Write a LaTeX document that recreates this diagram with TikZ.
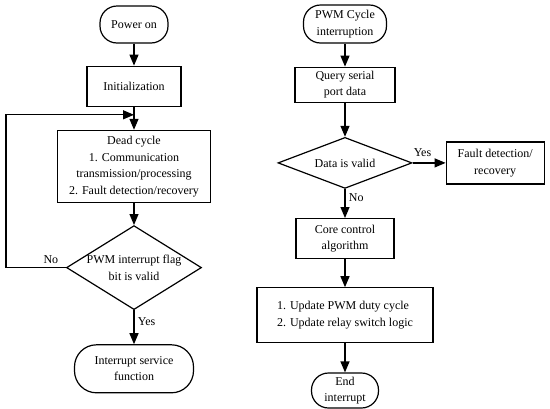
\documentclass[tikz,border=0pt]{standalone}
\usepackage{fontspec}
\setmainfont{Liberation Serif}
\usepackage{tikz}
\usetikzlibrary{positioning}
\usetikzlibrary{arrows.meta}
\usetikzlibrary{shapes.geometric}

\begin{document}
\begin{tikzpicture}[x=1pt, y=1pt, ->,
        >={Triangle[length=11pt,width=9pt]},
        line width=1.2pt,
        auto,
        font=\fontsize{12}{16.5}\selectfont,
        box/.style={
        draw=black,
        rectangle,
        inner sep=2pt,
        align=center},
        terminal/.style={
        draw=black,
        rectangle,
        rounded corners=17pt,
        inner sep=2pt,
        align=center},
        decision/.style={
        draw=black,
        diamond,
        inner sep=-6pt,
        align=center}]

        \useasboundingbox (0,0) rectangle (550,-408);

        % main loop
        \node[terminal, minimum width=68pt, minimum height=37pt] (power) at (134,-24.5) {Power on};
        \node[box, minimum width=94pt, minimum height=40pt] (init) [below=22pt of power] {Initialization};
        \node[box, minimum width=153pt, minimum height=72pt] (dead) [below=23pt of init] {Dead cycle\\1. Communication\\transmission/processing\\2. Fault detection/recovery};
        \node[decision, aspect=1.6, minimum width=135pt, minimum height=84pt] (flag) [below=22pt of dead] {PWM interrupt flag\\bit is valid};
        \node[terminal, rounded corners=22pt, minimum width=119pt, minimum height=48pt] (isr) [below=34pt of flag] {Interrupt service\\function};
        \coordinate[below=8pt of init] (join);
        \coordinate (back) at ([xshift=-60pt]flag.west);

        % interrupt routine
        \node[terminal, minimum width=83pt, minimum height=38pt] (pwmirq) at (345,-24) {PWM Cycle\\interruption};
        \node[box, minimum width=100pt, minimum height=35pt] (query) [below=23pt of pwmirq] {Query serial\\port data};
        \node[decision, aspect=2.6, minimum width=134pt, minimum height=51pt] (valid) [below=34pt of query] {Data is valid};
        \node[box, minimum width=98pt, minimum height=42pt] (fault) [right=33pt of valid] {Fault detection/\\recovery};
        \node[box, minimum width=98pt, minimum height=40pt] (core) [below=29pt of valid] {Core control\\algorithm};
        \node[box, align=left, minimum width=176pt, minimum height=55pt] (update) [below=28pt of core] {1. Update PWM duty cycle\\2. Update relay switch logic};
        \node[terminal, minimum width=67pt, minimum height=35pt] (endirq) [below=29pt of update] {End\\interrupt};

        \path (power) edge [draw=black] (init);
        \path (init) edge [draw=black] (dead);
        \path (dead) edge [draw=black] (flag);
        \path (flag) edge [draw=black] node[right, pos=0.35] {Yes} (isr);
        \draw (flag.west) -- node[above, pos=0.25] {No} (back) |- (join);

        \path (pwmirq) edge [draw=black] (query);
        \path (query) edge [draw=black] (valid);
        \path (valid) edge [draw=black] node[above, pos=0.3, yshift=2pt] {Yes} (fault);
        \path (valid) edge [draw=black] node[right, pos=0.3] {No} (core);
        \path (core) edge [draw=black] (update);
        \path (update) edge [draw=black] (endirq);
\end{tikzpicture}
\end{document}
